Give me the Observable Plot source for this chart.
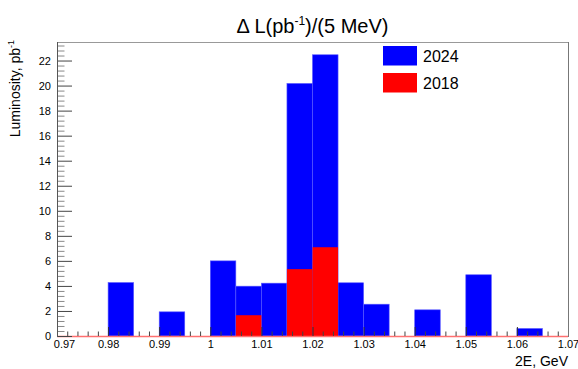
<!DOCTYPE html>
<html><head><meta charset="utf-8">
<script src="https://cdn.jsdelivr.net/npm/d3@7"></script>
<script src="https://cdn.jsdelivr.net/npm/@observablehq/plot@0.6"></script>
<style>body{margin:0;background:#fff} svg{display:block} #chart{width:578px;height:369px}</style>
</head><body><div id="chart"></div>
<script>
// ---- data ----
const binWidth = 0.005; // GeV
const bins2024 = [0.980, 0.990, 1.000, 1.005, 1.010, 1.015, 1.020, 1.025, 1.030, 1.040, 1.050, 1.060];
const lumi2024 = [4.27, 1.93, 6.00, 3.98, 4.22, 20.17, 22.46, 4.25, 2.54, 2.09, 4.89, 0.60];
const bins2018 = [1.005, 1.015, 1.020];
const lumi2018 = [1.66, 5.34, 7.09];
const seriesNames = ["2024", "2018"];
const seriesColors = ["#0000ff", "#ff0000"];
const xTickValues = [0.97, 0.98, 0.99, 1.00, 1.01, 1.02, 1.03, 1.04, 1.05, 1.06, 1.07];
const xTickLabels = ["0.97", "0.98", "0.99", "1", "1.01", "1.02", "1.03", "1.04", "1.05", "1.06", "1.07"];
const yTickValues = [0, 2, 4, 6, 8, 10, 12, 14, 16, 18, 20, 22];
const titleMain = "\u0394 L(pb";
const titleSup = "-1";
const titleEnd = ")/(5 MeV)";
const yLabel = "Luminosity, pb";
const yLabelSup = "-1";
const xLabel = "2E, GeV";

// ---- build ----
const rows2024 = bins2024.map((b, i) => ({x1: b, x2: b + binWidth, y: lumi2024[i]}));
const rows2018 = bins2018.map((b, i) => ({x1: b, x2: b + binWidth, y: lumi2018[i]}));
const xMinor = d3.range(0.97, 1.0705, 0.002).filter(v => !xTickValues.some(t => Math.abs(t - v) < 1e-6));
const yMinor = d3.range(0, 23.45, 0.4).filter(v => !yTickValues.some(t => Math.abs(t - v) < 1e-6));
const fmtX = d => xTickLabels[xTickValues.findIndex(t => Math.abs(t - d) < 1e-9)];

const W = 578, H = 369, mL = 57, mR = 10, mT = 42, mB = 33;
const iw = W - mL - mR, ih = H - mT - mB;
const font = "'Liberation Sans', Arial, Helvetica, sans-serif";

const chart = Plot.plot({
  width: W, height: H,
  marginLeft: mL, marginRight: mR, marginTop: mT, marginBottom: mB,
  style: {fontFamily: font, background: "#fff", color: "#000"},
  x: {domain: [0.97, 1.07]},
  y: {domain: [0, 23.48]},
  marks: [
    Plot.rectY(rows2024, {x1: "x1", x2: "x2", y: "y", fill: seriesColors[0], stroke: "#5a5aff", strokeWidth: 0.6}),
    Plot.rectY(rows2018, {x1: "x1", x2: "x2", y: "y", fill: seriesColors[1]}),
    Plot.ruleY([0], {stroke: "#ff7070", strokeWidth: 1.5}),
    // x ticks (inward)
    Plot.tickX(xTickValues, {x: d => d, insetTop: ih - 9, stroke: "#333"}),
    Plot.tickX(xMinor, {x: d => d, insetTop: ih - 4.5, stroke: "#444"}),
    // y ticks (inward)
    Plot.tickY(yTickValues, {y: d => d, insetRight: iw - 15, stroke: "#444"}),
    Plot.tickY(yMinor, {y: d => d, insetRight: iw - 7.5, stroke: "#888"}),
    Plot.axisX({ticks: xTickValues.slice(0, 1), tickFormat: fmtX, tickSize: 0, tickPadding: 4, fontSize: 11, dx: 7, label: null}),
    Plot.axisX({ticks: xTickValues.slice(1), tickFormat: fmtX, tickSize: 0, tickPadding: 4, fontSize: 11, label: null}),
    Plot.axisY({ticks: yTickValues, tickSize: 0, tickPadding: 6.5, fontSize: 11, label: null}),
    Plot.frame({stroke: "#999", anchor: "top"}),
    Plot.frame({stroke: "#777", anchor: "right"}),
    Plot.frame({stroke: "#555", anchor: "left"})
  ]
});
document.getElementById("chart").appendChild(chart);

const svg = d3.select(chart);
// title
const t = svg.append("text").attr("x", mL + iw / 2).attr("y", 33).attr("text-anchor", "middle")
  .attr("font-family", font).attr("font-size", 20).attr("fill", "#000");
t.append("tspan").text(titleMain);
t.append("tspan").attr("dy", -8).attr("font-size", 12).text(titleSup);
t.append("tspan").attr("dy", 8).text(titleEnd);

// y label
const yl = svg.append("text").attr("transform", `translate(20,40) rotate(-90)`).attr("text-anchor", "end")
  .attr("font-family", font).attr("font-size", 14).attr("fill", "#000");
yl.append("tspan").text(yLabel);
yl.append("tspan").attr("dy", -6).attr("font-size", 9).text(yLabelSup);

// x label
svg.append("text").attr("x", mL + iw).attr("y", 366).attr("text-anchor", "end")
  .attr("font-family", font).attr("font-size", 14).attr("fill", "#000").text(xLabel);

// legend
const legY = [46, 73];
const legBase = [61.5, 89];
seriesNames.forEach((n, i) => {
  svg.append("rect").attr("x", 383).attr("y", legY[i]).attr("width", 34).attr("height", 19.5).attr("fill", seriesColors[i]);
  svg.append("text").attr("x", 423).attr("y", legBase[i]).attr("text-anchor", "start")
    .attr("font-family", font).attr("font-size", 16).attr("fill", "#000").text(n);
});
</script>
</body></html>
